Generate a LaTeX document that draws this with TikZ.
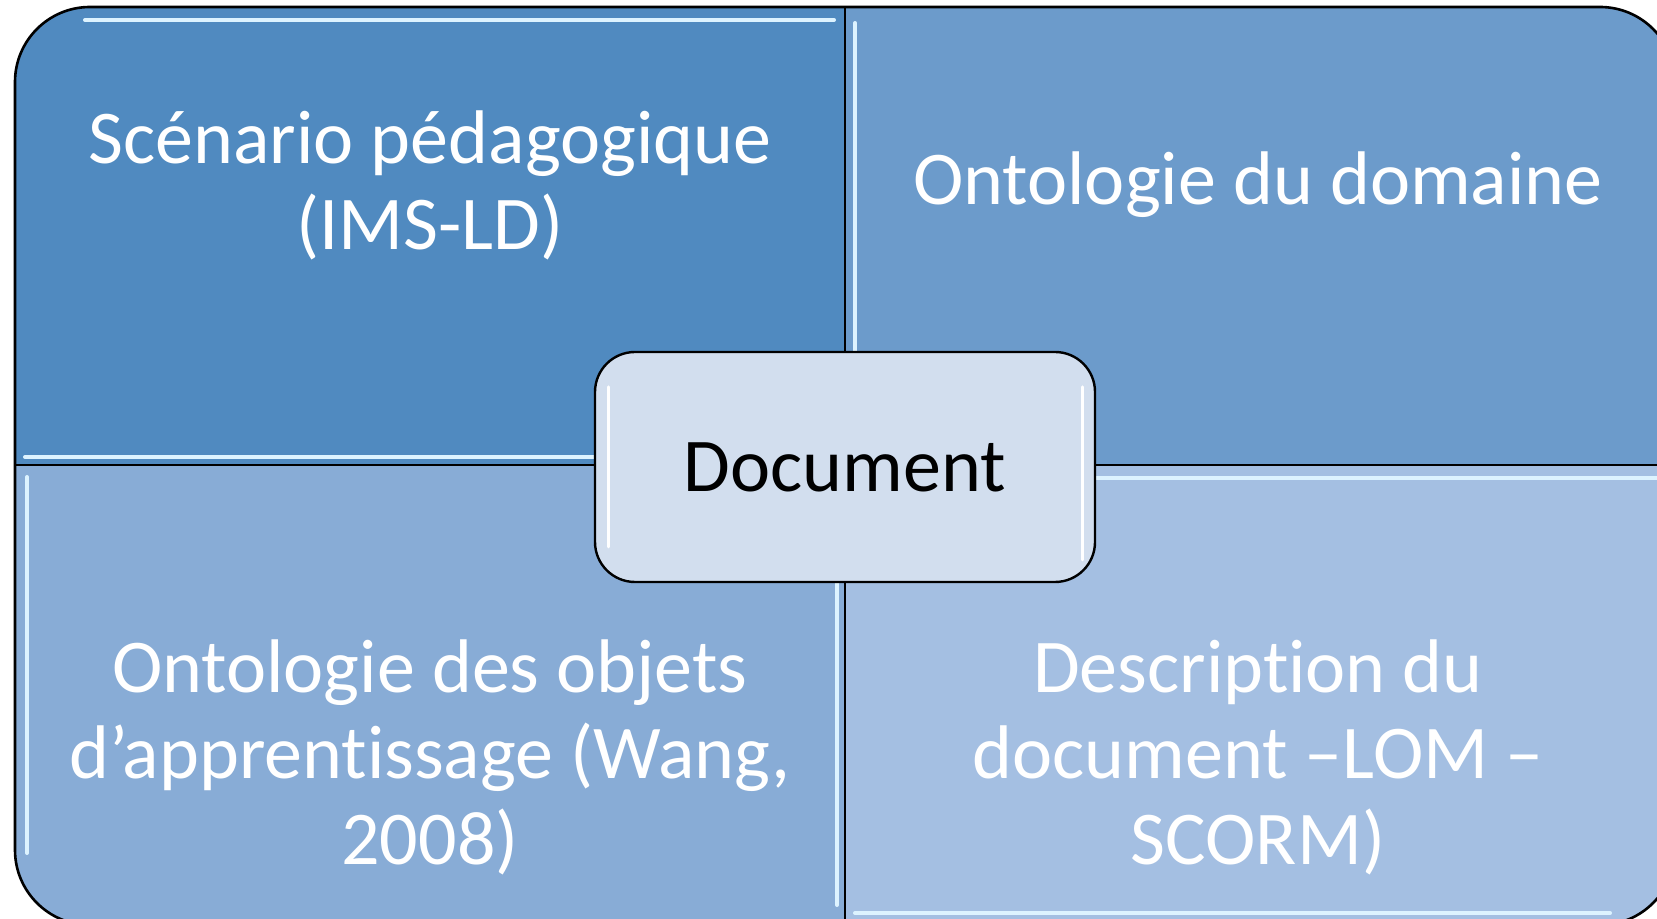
\documentclass[tikz,border=0pt]{standalone}
\usepackage{fontspec}
\setmainfont{Carlito}[Ligatures=NoCommon]
\usepackage{xcolor}
\usepackage{tikz}
\usetikzlibrary{positioning}

\definecolor{quadTL}{HTML}{508AC0}
\definecolor{quadTR}{HTML}{6C9BCB}
\definecolor{quadBL}{HTML}{88ACD6}
\definecolor{quadBR}{HTML}{A4BFE2}
\definecolor{hubcol}{HTML}{D2DEEE}
\definecolor{glintcol}{HTML}{DDF3FF}

\begin{document}
\begin{tikzpicture}[
    x=0.5pt, y=0.5pt,
    glint/.style={draw=glintcol, line width=2pt, line cap=round},
    celltext/.style={text=white, align=center, font=\fontsize{38}{43}\selectfont},
    hubnode/.style={rectangle, rounded corners=20pt, draw=black, line width=1.2pt, fill=hubcol, minimum width=250pt, minimum height=115pt, font=\fontsize{38}{43}\selectfont},
]
\useasboundingbox (0,0) rectangle (1657,919);
% four cells of the matrix
\begin{scope}
\clip[rounded corners=37.5pt] (15,-6) rectangle (1675,912);
\fill[quadTL] (15,454) rectangle (845,912);
\fill[quadTR] (845,454) rectangle (1675,912);
\fill[quadBL] (15,-6) rectangle (845,454);
\fill[quadBR] (845,-6) rectangle (1675,454);
% bevel highlights
\draw[glint] (85,899) -- (834,899);
\draw[glint] (25,462) -- (834,462);
\draw[glint] (855,896) -- (855,470);
\draw[glint] (1667,896) -- (1667,470);
\draw[glint] (27,442) -- (27,66);
\draw[glint] (837,442) -- (837,14);
\draw[glint] (855,441) -- (1665,441);
\draw[glint] (855,6) -- (1610,6);
% dividers
\draw[line width=1pt] (845,-6) -- (845,912);
\draw[line width=1pt] (15,454) -- (1675,454);
\end{scope}
\draw[line width=1.3pt, rounded corners=37.5pt] (15,-6) rectangle (1675,912);

\node[celltext] (scenario) at (430,734) {Scénario pédagogique\\(IMS-LD)};
\node[celltext] (domaine) at (1258,734) {Ontologie du domaine};
\node[celltext] (objets) at (430,162) {Ontologie des objets\\d’apprentissage (Wang,\\2008)};
\node[celltext] (lom) at (1258,162) {Description du\\document –LOM –\\SCORM)};

% central hub
\node[hubnode] (doc) at (845,452) {Document};
\draw[white, line width=1.5pt, line cap=round] (608,532) -- (608,372);
\draw[white, line width=1.5pt, line cap=round] (1082,532) -- (1082,359);
\end{tikzpicture}
\end{document}
